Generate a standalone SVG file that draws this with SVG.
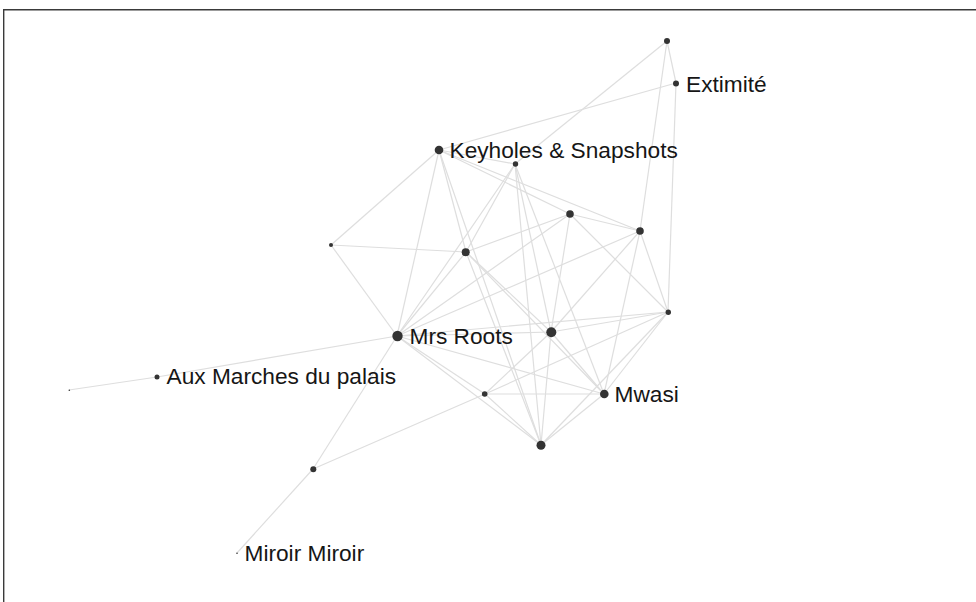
<svg xmlns="http://www.w3.org/2000/svg" width="976" height="602" viewBox="0 0 976 602">
<style>
.e{stroke:#dedede;stroke-width:1.2;fill:none}
.n{fill:#333}
.t{font-family:"Liberation Sans",Arial,sans-serif;font-size:22.7px;fill:#161616}
</style>
<rect width="976" height="602" fill="#fff"/>
<path d="M3.7,602 V9.7 H976" fill="none" stroke="#3a3a3a" stroke-width="1.4"/>
<g id="edges">
<line class="e" x1="69" y1="390" x2="157" y2="377"/>
<line class="e" x1="157" y1="377" x2="397" y2="336"/>
<line class="e" x1="397" y1="336" x2="313" y2="469"/>
<line class="e" x1="313" y1="469" x2="237" y2="553"/>
<line class="e" x1="313" y1="469" x2="485" y2="394"/>
<line class="e" x1="667" y1="41" x2="676" y2="83"/>
<line class="e" x1="667" y1="41" x2="515" y2="164"/>
<line class="e" x1="667" y1="41" x2="640" y2="231"/>
<line class="e" x1="676" y1="83" x2="439" y2="150"/>
<line class="e" x1="676" y1="83" x2="668" y2="312"/>
<line class="e" x1="439" y1="150" x2="331" y2="245"/>
<line class="e" x1="439" y1="150" x2="466" y2="252"/>
<line class="e" x1="439" y1="150" x2="397" y2="336"/>
<line class="e" x1="439" y1="150" x2="515" y2="164"/>
<line class="e" x1="439" y1="150" x2="570" y2="214"/>
<line class="e" x1="439" y1="150" x2="640" y2="231"/>
<line class="e" x1="439" y1="150" x2="541" y2="445"/>
<line class="e" x1="331" y1="245" x2="466" y2="252"/>
<line class="e" x1="331" y1="245" x2="397" y2="336"/>
<line class="e" x1="466" y1="252" x2="515" y2="164"/>
<line class="e" x1="466" y1="252" x2="570" y2="214"/>
<line class="e" x1="466" y1="252" x2="397" y2="336"/>
<line class="e" x1="466" y1="252" x2="551" y2="332"/>
<line class="e" x1="466" y1="252" x2="604" y2="394"/>
<line class="e" x1="466" y1="252" x2="541" y2="445"/>
<line class="e" x1="515" y1="164" x2="397" y2="336"/>
<line class="e" x1="515" y1="164" x2="551" y2="332"/>
<line class="e" x1="515" y1="164" x2="604" y2="394"/>
<line class="e" x1="515" y1="164" x2="541" y2="445"/>
<line class="e" x1="570" y1="214" x2="640" y2="231"/>
<line class="e" x1="570" y1="214" x2="397" y2="336"/>
<line class="e" x1="570" y1="214" x2="551" y2="332"/>
<line class="e" x1="570" y1="214" x2="668" y2="312"/>
<line class="e" x1="640" y1="231" x2="397" y2="336"/>
<line class="e" x1="640" y1="231" x2="551" y2="332"/>
<line class="e" x1="640" y1="231" x2="604" y2="394"/>
<line class="e" x1="640" y1="231" x2="668" y2="312"/>
<line class="e" x1="668" y1="312" x2="397" y2="336"/>
<line class="e" x1="668" y1="312" x2="551" y2="332"/>
<line class="e" x1="668" y1="312" x2="485" y2="394"/>
<line class="e" x1="668" y1="312" x2="604" y2="394"/>
<line class="e" x1="668" y1="312" x2="541" y2="445"/>
<line class="e" x1="397" y1="336" x2="551" y2="332"/>
<line class="e" x1="397" y1="336" x2="485" y2="394"/>
<line class="e" x1="397" y1="336" x2="604" y2="394"/>
<line class="e" x1="397" y1="336" x2="541" y2="445"/>
<line class="e" x1="551" y1="332" x2="485" y2="394"/>
<line class="e" x1="551" y1="332" x2="604" y2="394"/>
<line class="e" x1="551" y1="332" x2="541" y2="445"/>
<line class="e" x1="485" y1="394" x2="604" y2="394"/>
<line class="e" x1="485" y1="394" x2="541" y2="445"/>
<line class="e" x1="604" y1="394" x2="541" y2="445"/>
</g>
<g id="n-A"><circle class="n" cx="667" cy="41" r="3"/></g>
<g id="n-B"><circle class="n" cx="676" cy="83.5" r="3"/><text class="t" x="686" y="91.5">Extimité</text></g>
<g id="n-C"><circle class="n" cx="439" cy="150" r="4.3"/><text class="t" x="449.5" y="158">Keyholes &amp; Snapshots</text></g>
<g id="n-D"><circle class="n" cx="515.5" cy="164" r="2.7"/></g>
<g id="n-E"><circle class="n" cx="570" cy="214" r="3.8"/></g>
<g id="n-F"><circle class="n" cx="640" cy="231" r="3.8"/></g>
<g id="n-G"><circle class="n" cx="331" cy="245" r="2"/></g>
<g id="n-H"><circle class="n" cx="465.7" cy="252.3" r="4"/></g>
<g id="n-I"><circle class="n" cx="668.3" cy="312.3" r="2.7"/></g>
<g id="n-J"><circle class="n" cx="397.5" cy="336" r="5.2"/><text class="t" x="409.5" y="343.5">Mrs Roots</text></g>
<g id="n-K"><circle class="n" cx="551.3" cy="332.3" r="5"/></g>
<g id="n-L"><circle class="n" cx="157" cy="377" r="2.5"/><text class="t" x="166.5" y="383.5">Aux Marches du palais</text></g>
<g id="n-M"><circle class="n" cx="484.7" cy="394" r="2.8"/></g>
<g id="n-N"><circle class="n" cx="604.3" cy="394" r="4.3"/><text class="t" x="614.5" y="401.7">Mwasi</text></g>
<g id="n-O"><circle class="n" cx="541" cy="445.3" r="4.5"/></g>
<g id="n-P"><circle class="n" cx="313.3" cy="469.3" r="3"/></g>
<g id="n-Q"><circle class="n" cx="69.3" cy="390.3" r="0.8"/></g>
<g id="n-R"><circle class="n" cx="237" cy="553.3" r="0.8"/><text class="t" x="244.5" y="560.7">Miroir Miroir</text></g>
</svg>
